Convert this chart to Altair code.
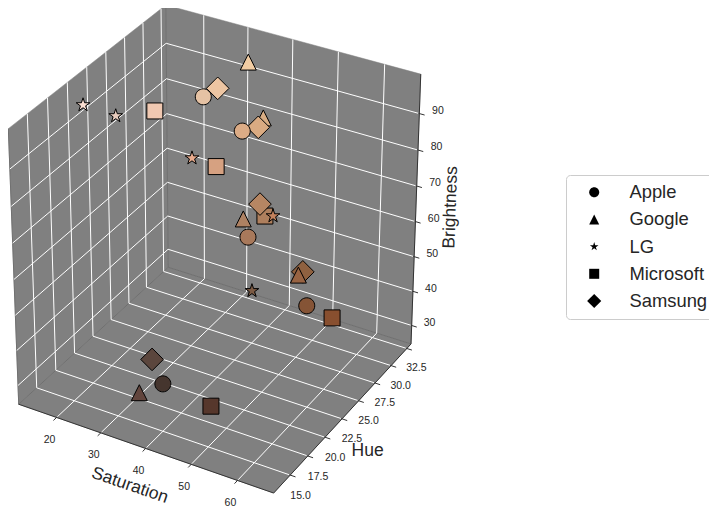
import math
import colorsys
import numpy as np
import pandas as pd
import altair as alt

# ---------------- data ----------------
companies = ["Apple", "Google", "LG", "Microsoft", "Samsung"]
company = (["Apple"] * 5 + ["Google"] * 5 + ["LG"] * 5 +
           ["Microsoft"] * 5 + ["Samsung"] * 5)
saturation = [28.5, 39.2, 46.0, 58.9, 33.4,
              32.7, 39.2, 43.4, 57.0, 37.9,
              16.5, 18.5, 39.4, 52.9, 45.4,
              26.4, 39.8, 46.6, 65.8, 49.0,
              31.4, 40.4, 45.5, 55.0, 32.7]
hue = [27.8, 26.5, 23.0, 23.0, 19.0,
       31.5, 29.5, 24.0, 23.0, 13.2,
       19.0, 22.0, 19.5, 22.0, 24.0,
       22.5, 22.5, 25.0, 22.0, 16.0,
       28.0, 28.0, 25.0, 25.0, 18.0]
brightness = [89.8, 86.4, 66.0, 52.0, 27.0,
              94.7, 84.9, 68.2, 59.8, 38.4,
              98.1, 90.8, 91.3, 76.3, 48.8,
              94.1, 83.9, 68.4, 53.4, 33.6,
              92.8, 85.3, 71.3, 56.1, 35.8]

sat_ticks = [20, 30, 40, 50, 60]
hue_ticks = [15.0, 17.5, 20.0, 22.5, 25.0, 27.5, 30.0, 32.5]
bright_ticks = [30, 40, 50, 60, 70, 80, 90]
sat_lim = (11.3, 67.7)
hue_lim = (12.69, 33.17)
bright_lim = (24.55, 100.67)

# ---------------- 3-D view ----------------
ELEV, AZIM, DIST = 30.0, -60.0, 10.0
CX, KX = 217.9, 2942.8
CY, KY = 240.7, 3146.8
W, H = 701, 501
x_dom = [(8 - CX) / KX, (8 + W - CX) / KX]
y_dom = [(CY - 8 - H) / KY, (CY - 8) / KY]

PANE = "#808080"
EDGE = "#707070"
AXIS = "#333333"
TXT = "#262626"
FONT = "Liberation Sans"


def norm(v, lim):
    return (np.asarray(v, float) - lim[0]) / (lim[1] - lim[0]) - 0.5


def proj_n(qx, qy, qz):
    qx, qy, qz = (np.asarray(t, float) for t in (qx, qy, qz))
    e, a = math.radians(ELEV), math.radians(AZIM)
    uq = -math.sin(a) * qx + math.cos(a) * qy
    vq = (-math.sin(e) * math.cos(a) * qx - math.sin(e) * math.sin(a) * qy
          + math.cos(e) * qz)
    wq = (math.cos(e) * math.cos(a) * qx + math.cos(e) * math.sin(a) * qy
          + math.sin(e) * qz)
    d = DIST - wq
    return uq / d, vq / d, wq


# ---------------- points ----------------
pts = pd.DataFrame({"company": company, "Saturation": saturation,
                    "Hue": hue, "Brightness": brightness})
px, py, depth = proj_n(norm(pts.Saturation, sat_lim), norm(pts.Hue, hue_lim),
                       norm(pts.Brightness, bright_lim))
pts["px"], pts["py"], pts["depth"] = px, py, depth
pts["hex"] = [
    "#%02x%02x%02x" % tuple(int(round(c * 255)) for c in
                            colorsys.hsv_to_rgb(h / 360, s / 100, b / 100))
    for h, s, b in zip(pts.Hue, pts.Saturation, pts.Brightness)]
pts = pts.sort_values("depth").reset_index(drop=True)
pts["z"] = np.arange(len(pts))

# ---------------- panes ----------------
panes = {
    "floor": [(-.5, -.5, -.5), (.5, -.5, -.5), (.5, .5, -.5), (-.5, .5, -.5)],
    "left": [(-.5, -.5, -.5), (-.5, .5, -.5), (-.5, .5, .5), (-.5, -.5, .5)],
    "back": [(-.5, .5, -.5), (.5, .5, -.5), (.5, .5, .5), (-.5, .5, .5)],
}
prow = []
for name, verts in panes.items():
    for i, v in enumerate(verts + [verts[0]]):
        x, y, _ = proj_n(*v)
        prow.append({"pane": name, "idx": i, "px": float(x), "py": float(y)})
pane_df = pd.DataFrame(prow)


def seg_df(segs):
    rows = []
    for a, b in segs:
        x1, y1, _ = proj_n(*a)
        x2, y2, _ = proj_n(*b)
        rows.append({"px": float(x1), "py": float(y1),
                     "px2": float(x2), "py2": float(y2)})
    return pd.DataFrame(rows)


grid = []
for s in sat_ticks:
    q = float(norm(s, sat_lim))
    grid += [((q, -.5, -.5), (q, .5, -.5)), ((q, .5, -.5), (q, .5, .5))]
for h in hue_ticks:
    q = float(norm(h, hue_lim))
    grid += [((-.5, q, -.5), (.5, q, -.5)), ((-.5, q, -.5), (-.5, q, .5))]
for b in bright_ticks:
    q = float(norm(b, bright_lim))
    grid += [((-.5, -.5, q), (-.5, .5, q)), ((-.5, .5, q), (.5, .5, q))]
grid_df = seg_df(grid)

# pane edges (no top edges)
edges = [((-.5, .5, -.5), (-.5, .5, .5)),
         ((-.5, -.5, -.5), (-.5, .5, -.5)),
         ((-.5, .5, -.5), (.5, .5, -.5)),
         ((-.5, -.5, -.5), (-.5, -.5, .5))]
edge_df = seg_df(edges)

TI, TO = 0.004, 0.02
axis = [((-.5, -.5, -.5), (.5, -.5, -.5)),
        ((.5, -.5, -.5), (.5, .5, -.5)),
        ((.5, .5, -.5), (.5, .5, .5))]
for s in sat_ticks:
    q = float(norm(s, sat_lim))
    axis.append(((q, -.5 + TI, -.5), (q, -.5 - TO, -.5)))
for h in hue_ticks:
    q = float(norm(h, hue_lim))
    axis.append(((.5 - TI, q, -.5), (.5 + TO, q, -.5)))
for b in bright_ticks:
    q = float(norm(b, bright_lim))
    axis.append(((.5 - TI, .5, q), (.5 + TO, .5, q)))
axis_df = seg_df(axis)

lab = []
for s in sat_ticks:
    x, y, _ = proj_n(norm(s, sat_lim), -.5 - 0.047, -.5 - 0.058)
    lab.append({"px": float(x), "py": float(y), "t": f"{s:d}"})
for h in hue_ticks:
    x, y, _ = proj_n(.5 + 0.04, norm(h, hue_lim), -.5 - 0.065)
    lab.append({"px": float(x), "py": float(y), "t": f"{h:.1f}"})
for b in bright_ticks:
    x, y, _ = proj_n(.5 + 0.047, .5 + 0.047, norm(b, bright_lim))
    lab.append({"px": float(x), "py": float(y), "t": f"{b:d}"})
lab_df = pd.DataFrame(lab)

tx, ty, _ = proj_n(0.0, -.5 - 0.09, -.5 - 0.09)
hx, hy, _ = proj_n(.5 + 0.09, 0.0, -.5 - 0.105)
bx, by, _ = proj_n(.5 + 0.09, .5 + 0.09, 0.0)
titles = pd.DataFrame([
    {"px": float(tx), "py": float(ty), "t": "Saturation", "ang": 19},
    {"px": float(hx), "py": float(hy), "t": "Hue", "ang": 0},
    {"px": float(bx), "py": float(by), "t": "Brightness", "ang": 272},
])

# ---------------- marker shapes ----------------
def star_path(r=0.9, inner=0.382):
    p = []
    for k in range(10):
        ang = math.radians(-90 + 36 * k)
        rr = r if k % 2 == 0 else r * inner
        p.append(f"{rr * math.cos(ang):.4f},{rr * math.sin(ang):.4f}")
    return "M" + "L".join(p) + "Z"


shapes = ["M1,0A1,1,0,1,1,-1,0A1,1,0,1,1,1,0Z",
          "M0,-1L1,1L-1,1Z",
          star_path(),
          "M-1,-1L1,-1L1,1L-1,1Z",
          "M0,-1.414L1.414,0L0,1.414L-1.414,0Z"]

xs = alt.Scale(domain=x_dom, nice=False, zero=False)
ys = alt.Scale(domain=y_dom, nice=False, zero=False)
X = alt.X("px:Q", scale=xs, axis=None)
Y = alt.Y("py:Q", scale=ys, axis=None)

pane_layer = alt.Chart(pane_df).mark_line(
    fill=PANE, stroke=PANE, strokeWidth=0.5).encode(
    x=X, y=Y, detail="pane:N", order="idx:Q")
edge_layer = alt.Chart(edge_df).mark_rule(
    color=EDGE, strokeWidth=1).encode(x=X, y=Y, x2="px2:Q", y2="py2:Q")
grid_layer = alt.Chart(grid_df).mark_rule(
    color="white", strokeWidth=1).encode(x=X, y=Y, x2="px2:Q", y2="py2:Q")
axis_layer = alt.Chart(axis_df).mark_rule(
    color=AXIS, strokeWidth=1).encode(x=X, y=Y, x2="px2:Q", y2="py2:Q")
lab_layer = alt.Chart(lab_df).mark_text(
    font=FONT, fontSize=10.5, color=TXT, align="center",
    baseline="middle").encode(x=X, y=Y, text="t:N")
title_layer = alt.Chart(titles).mark_text(
    font=FONT, fontSize=17.5, color=TXT, align="center",
    baseline="middle").encode(x=X, y=Y, text="t:N",
                              angle=alt.Angle("ang:Q", scale=None))
pt_layer = alt.Chart(pts).mark_point(
    filled=True, size=256, stroke="black", strokeWidth=1, opacity=1).encode(
    x=X, y=Y,
    fill=alt.Fill("hex:N", scale=None),
    shape=alt.Shape("company:N",
                    scale=alt.Scale(domain=companies, range=shapes),
                    legend=alt.Legend(
                        title=None, orient="none", legendX=558, legendY=167,
                        fillColor="white", strokeColor="#cccccc",
                        cornerRadius=4, padding=8, symbolSize=100,
                        symbolFillColor="black", symbolStrokeColor="black",
                        symbolStrokeWidth=0, symbolOffset=11,
                        labelFont=FONT, labelFontSize=18.4, labelColor=TXT,
                        labelOffset=26, rowPadding=8.2)),
    order=alt.Order("z:Q"),
    tooltip=["company", "Saturation", "Hue", "Brightness"])

chart = alt.layer(pane_layer, edge_layer, grid_layer, axis_layer, lab_layer,
                  title_layer, pt_layer).properties(
    width=W, height=H, padding=0,
    autosize=alt.AutoSizeParams(type="none", contains="padding"),
    background="white").configure_view(strokeWidth=0)

chart.save("out.html", embed_options={"renderer": "svg", "actions": False})
